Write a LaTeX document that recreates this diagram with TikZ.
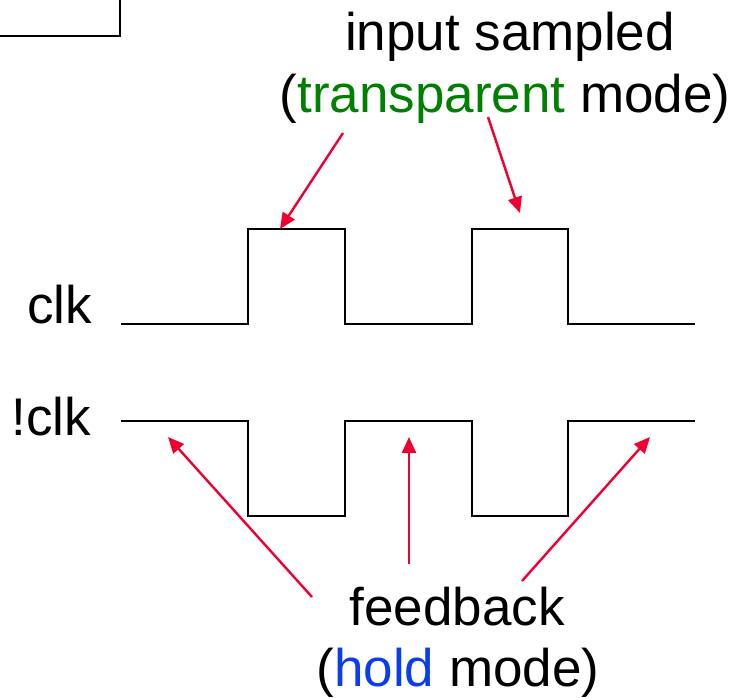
\documentclass[tikz,border=0pt]{standalone}
\usepackage{fontspec}
\setmainfont{Liberation Sans}
\usetikzlibrary{arrows.meta,positioning}
\definecolor{pointred}{HTML}{EE0030}
\definecolor{modegreen}{HTML}{008000}
\definecolor{modeblue}{HTML}{0A3CF0}

\begin{document}
\begin{tikzpicture}[x=1bp,y=-1bp,
    wave/.style={black,line width=2.4bp},
    pointer/.style={pointred,line width=2.4bp,
      -{Triangle[length=16bp,width=14bp]}},
    lbl/.style={inner sep=0pt,anchor=base,
      font=\fontsize{53bp}{62bp}\selectfont}]
  \useasboundingbox (0,0) rectangle (737,698);
  % piece of the latch box at the corner
  \draw[wave] (0,36) -- (120,36) -- (120,0);
  % signal names
  \node[lbl,anchor=base east] (clkName) at (92,323) {clk};
  \node[lbl,anchor=base east] (nclkName) at (91,435) {!clk};
  % clock and inverted clock
  \draw[wave] (121,324) -- (248,324) -- (248,229) -- (345,229) -- (345,324)
    -- (472,324) -- (472,229) -- (568,229) -- (568,324) -- (695,324);
  \draw[wave] (121,421) -- (248,421) -- (248,516) -- (345,516) -- (345,421)
    -- (472,421) -- (472,516) -- (568,516) -- (568,421) -- (695,421);
  % captions
  \node[lbl] (sampTop) at (510,51) {input sampled};
  \node[lbl] (sampBot) at (505,113) {(\textcolor{modegreen}{transparent} mode)};
  \node[lbl] (holdTop) at (457,625) {feedback};
  \node[lbl] (holdBot) at (458,686) {(\textcolor{modeblue}{hold} mode)};
  % arrow ends
  \coordinate (sampA) at (343,133);
  \coordinate (sampB) at (488,117);
  \coordinate (highA) at (280,229);
  \coordinate (highB) at (520,213);
  \coordinate (holdA) at (312,597);
  \coordinate (holdB) at (409,564);
  \coordinate (holdC) at (522,581);
  \coordinate (lowA) at (168,437);
  \coordinate (lowB) at (409,437);
  \coordinate (lowC) at (650,437);
  \draw[pointer] (sampA) -- (highA);
  \draw[pointer] (sampB) -- (highB);
  \foreach \s/\t in {holdA/lowA,holdB/lowB,holdC/lowC}
    \draw[pointer] (\s) -- (\t);
\end{tikzpicture}
\end{document}
